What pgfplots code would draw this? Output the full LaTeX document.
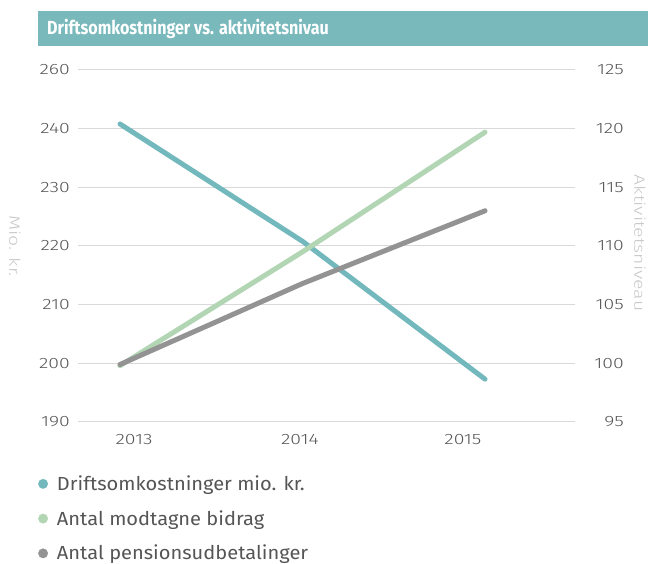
\documentclass[border=0pt]{standalone}
\usepackage{pgfplots}
\pgfplotsset{compat=1.18}
\usepackage{fontspec}
\setmainfont{Fira Sans}
\newfontfamily\tickfont[FakeStretch=1.3, UprightFont=* Light]{Fira Sans}
\newfontfamily\legfont[FakeStretch=1.06]{Fira Sans}
\definecolor{cteal}{HTML}{72B8BC}
\definecolor{cbar}{HTML}{79B9BC}
\definecolor{cgreen}{HTML}{B2D5B4}
\definecolor{cgray}{HTML}{939393}
\definecolor{ctick}{HTML}{555555}
\definecolor{clab}{HTML}{C8C8C8}
\definecolor{cgrid}{HTML}{D9D9D9}
\pgfplotsset{
  common/.style={
    width=497bp, height=352bp, scale only axis,
    at={(78bp,142bp)}, anchor=south west,
    xmin=2012.77, xmax=2015.493,
    axis line style={draw=none},
    tick style={draw=none},
    ticklabel style={font=\tickfont\fontsize{15}{18}\selectfont, text=ctick, inner sep=0pt},
    /pgf/number format/assume math mode=true,
    clip=false,
  }
}
\begin{document}
\begin{tikzpicture}[x=1bp,y=1bp]
\path[use as bounding box] (0,0) rectangle (648,564);
\fill[cbar] (38,518) rectangle (648,553);
\node[anchor=west, text=white, font=\fontsize{19}{22}\selectfont\bfseries, inner sep=0pt] at (47,535.5) {\scalebox{0.85}[1]{Driftsomkostninger vs. aktivitetsnivau}};
\node[rotate=-90, text=clab, font=\tickfont\fontsize{15}{18}\selectfont, inner sep=0pt] at (15,318) {Mio. kr.};
\node[rotate=-90, text=clab, font=\tickfont\fontsize{15}{18}\selectfont, inner sep=0pt] at (640,321) {Aktivitetsniveau};

\begin{axis}[common,
  ymin=190, ymax=250,
  ytick={190,200,210,220,230,240,250},
  yticklabels={190,200,210,220,230,240,260},
  ymajorgrids, grid style={cgrid, line width=1bp},
  xtick={2013.077,2013.986,2014.879},
  xticklabels={2013,2014,2015},
  xticklabel style={anchor=north, yshift=-12bp},
  yticklabel style={anchor=east, xshift=-8bp},
]
\addplot[cteal, line width=5bp, line cap=round, line join=round] coordinates {(2013,240.8) (2014,220.8) (2015,197.3)};
\end{axis}

\begin{axis}[common,
  ymin=95, ymax=125,
  ytick={95,100,...,125},
  yticklabel pos=right,
  xtick=\empty,
  yticklabel style={anchor=east, xshift=49bp},
  legend style={at={(axis description cs:-0.0805,-0.152)}, anchor=north west,
    draw=none, fill=none, font=\legfont\fontsize{19}{22}\selectfont,
    row sep=18.5bp, column sep=9bp, inner sep=0pt, nodes={inner sep=0pt}},
  legend cell align=left,
  legend image code/.code={\fill[#1] (0bp,0bp) circle (4.7bp);},
]
\addplot[cgreen, line width=5bp, line cap=round, line join=round, forget plot] coordinates {(2013,99.8) (2014,109.5) (2015,119.7)};
\addplot[cgray, line width=5bp, line cap=round, line join=round, forget plot] coordinates {(2013,99.9) (2014,106.8) (2015,113.0)};
\addlegendimage{cteal}
\addlegendentry{\textcolor{ctick}{Driftsomkostninger mio. kr.}}
\addlegendimage{cgreen}
\addlegendentry{\textcolor{ctick}{Antal modtagne bidrag}}
\addlegendimage{cgray}
\addlegendentry{\textcolor{ctick}{Antal pensionsudbetalinger}}
\end{axis}
\end{tikzpicture}
\end{document}
